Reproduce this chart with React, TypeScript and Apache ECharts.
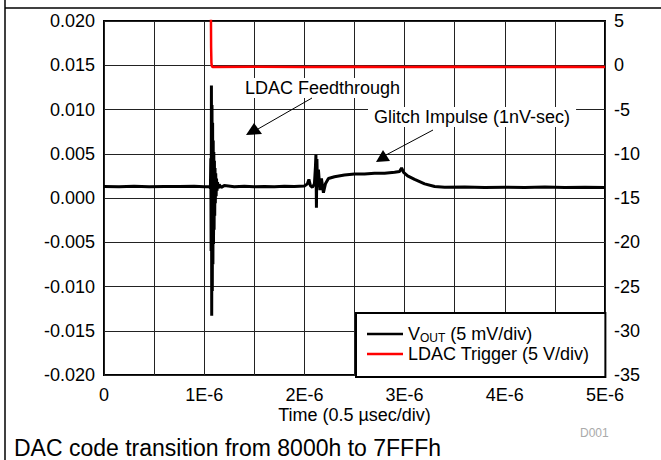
import React, { useEffect, useRef } from "react";
import * as echarts from "echarts";

// Time axis in microseconds (labels shown as 1E-6 etc.)
const xTickLabels = ["0", "1E-6", "2E-6", "3E-6", "4E-6", "5E-6"];

const voutTimeUs = [
  0, 0.15, 0.3, 0.45, 0.6, 0.75, 0.9, 1.0, 1.05, 1.062, 1.066, 1.069, 1.072, 1.075,
  1.078, 1.081, 1.084, 1.087, 1.09, 1.093, 1.096, 1.099, 1.102, 1.105, 1.108, 1.111,
  1.115, 1.119, 1.123, 1.128, 1.133, 1.14, 1.15, 1.17, 1.2, 1.3, 1.4, 1.5, 1.6, 1.7,
  1.8, 1.9, 2.0, 2.03, 2.045, 2.06, 2.08, 2.1, 2.11, 2.115, 2.12, 2.125, 2.13, 2.14,
  2.155, 2.17, 2.19, 2.21, 2.24, 2.3, 2.4, 2.5, 2.6, 2.7, 2.8, 2.9, 2.95, 2.97, 2.99,
  3.03, 3.1, 3.2, 3.3, 3.4, 3.6, 3.8, 4.0, 4.2, 4.4, 4.6, 4.8, 5.0,
];
const voutValues = [
  0.0013, 0.00128, 0.00133, 0.00127, 0.00131, 0.00129, 0.00132, 0.00128, 0.0013, 0.0011,
  0.0045, -0.006, 0.0127, -0.0133, 0.0105, -0.0105, 0.0085, -0.0075, 0.0065, -0.0052,
  0.0052, -0.0036, 0.0042, -0.002, 0.0034, -0.0006, 0.0028, 0.0002, 0.0022, 0.0008,
  0.0018, 0.0011, 0.0015, 0.0012, 0.0014, 0.00128, 0.00133, 0.00127, 0.0013, 0.00128,
  0.00134, 0.0013, 0.00135, 0.0016, 0.0021, 0.0014, 0.0012, 0.0016, 0.0035, 0.0049,
  -0.0011, 0.0044, 0.0015, 0.0032, 0.0009, 0.0022, 0.0006, 0.0016, 0.0022, 0.0024,
  0.0026, 0.0027, 0.0027, 0.0028, 0.0028, 0.0029, 0.003, 0.0034, 0.0029, 0.0025, 0.0021,
  0.0016, 0.0013, 0.00122, 0.00125, 0.0012, 0.00122, 0.0012, 0.00123, 0.0012, 0.00121,
  0.0012,
];

const trigTimeUs = [1.066, 1.069, 1.072, 1.076, 1.085, 1.5, 2.0, 2.5, 3.0, 3.5, 4.0, 4.5, 5.0];
const trigValues = [8, 2, 0.3, -0.1, -0.2, -0.18, -0.2, -0.18, -0.2, -0.18, -0.2, -0.18, -0.2];

const leftMin = -0.02;
const leftMax = 0.02;
const leftStep = 0.005;
const rightMin = -35;
const rightMax = 5;
const rightStep = 5;

const seriesNames = ["VOUT", "LDAC Trigger"];
const legendLabels = ["{n|V}{s|OUT}{n| (5 mV/div)}", "{n|LDAC Trigger (5 V/div)}"];
const annotations = ["LDAC Feedthrough", "Glitch Impulse (1nV-sec)"];
const xAxisTitle = "Time (0.5 \u00b5sec/div)";
const caption = "DAC code transition from 8000h to 7FFFh";
const figureId = "D001";

const FONT = "Liberation Sans, Arial, sans-serif";

export default function App() {
  const ref = useRef<HTMLDivElement>(null);
  useEffect(() => {
    if (!ref.current) return;
    const chart = echarts.init(ref.current, undefined, { renderer: "svg" });
    const gridColor = "#222";
    const option: any = {
      animation: false,
      textStyle: { fontFamily: FONT },
      grid: {
        left: 104,
        right: 56,
        top: 21,
        bottom: 85,
        show: true,
        borderColor: "#000",
        borderWidth: 2,
        backgroundColor: "#fff",
      },
      legend: {
        orient: "vertical",
        left: 356,
        top: 313,
        padding: [12, 16, 14, 11],
        itemGap: 1,
        itemWidth: 36,
        itemHeight: 2.5,
        icon: "rect",
        backgroundColor: "#fff",
        borderColor: "#000",
        borderWidth: 2,
        borderRadius: 0,
        data: seriesNames,
        formatter: (name: string) => legendLabels[seriesNames.indexOf(name)],
        textStyle: {
          fontFamily: FONT,
          color: "#000",
          rich: {
            n: { fontSize: 18, lineHeight: 20, fontFamily: FONT, color: "#000" },
            s: { fontSize: 12, lineHeight: 12, verticalAlign: "bottom", fontFamily: FONT, color: "#000" },
          },
        },
        z: 10,
      },
      xAxis: {
        type: "value",
        min: 0,
        max: 5,
        interval: 0.5,
        name: xAxisTitle,
        nameLocation: "middle",
        nameGap: 31,
        nameMoveOverlap: false,
        nameTextStyle: { fontSize: 18, color: "#000", fontFamily: FONT, verticalAlign: "top" },
        axisLine: { show: false },
        axisTick: { show: false },
        axisLabel: {
          fontSize: 18,
          color: "#000",
          margin: 11,
          fontFamily: FONT,
          formatter: (v: number) => {
            const n = Math.round(v * 2);
            if (n % 2 !== 0) return "";
            return xTickLabels[n / 2] ?? "";
          },
        },
        splitLine: { show: true, lineStyle: { color: gridColor, width: 1 } },
      },
      yAxis: [
        {
          type: "value",
          min: leftMin,
          max: leftMax,
          interval: leftStep,
          axisLine: { show: false },
          axisTick: { show: false },
          axisLabel: {
            fontSize: 18,
            color: "#000",
            margin: 9,
            fontFamily: FONT,
            formatter: (v: number) => v.toFixed(3),
          },
          splitLine: { show: true, lineStyle: { color: gridColor, width: 1 } },
        },
        {
          type: "value",
          position: "right",
          min: rightMin,
          max: rightMax,
          interval: rightStep,
          axisLine: { show: false },
          axisTick: { show: false },
          axisLabel: { fontSize: 18, color: "#000", margin: 9, fontFamily: FONT },
          splitLine: { show: false },
        },
      ],
      series: [
        {
          name: seriesNames[0],
          type: "line",
          yAxisIndex: 0,
          symbol: "none",
          lineStyle: { color: "#000", width: 3 },
          itemStyle: { color: "#000" },
          data: voutTimeUs.map((t, i) => [t, voutValues[i]]),
          z: 3,
        },
        {
          name: seriesNames[1],
          type: "line",
          yAxisIndex: 1,
          symbol: "none",
          clip: true,
          lineStyle: { color: "#ff0000", width: 2.5 },
          itemStyle: { color: "#ff0000" },
          data: trigTimeUs.map((t, i) => [t, trigValues[i]]),
          z: 4,
        },
      ],
      graphic: [
        { type: "line", shape: { x1: 5, y1: 8, x2: 661, y2: 8 }, style: { stroke: "#000", lineWidth: 1.5 }, z: 20 },
        { type: "line", shape: { x1: 5, y1: 0, x2: 5, y2: 460 }, style: { stroke: "#000", lineWidth: 1.5 }, z: 20 },
        {
          type: "text",
          left: 243,
          top: 78,
          z: 20,
          style: {
            text: annotations[0],
            font: `18px ${FONT}`,
            fill: "#000",
            backgroundColor: "#fff",
            padding: [1, 2],
          },
        },
        { type: "line", shape: { x1: 312, y1: 98, x2: 258, y2: 129 }, style: { stroke: "#000", lineWidth: 1 }, z: 20 },
        {
          type: "polygon",
          shape: { points: [[254, 123], [246, 135], [262, 134]] },
          style: { fill: "#000" },
          z: 20,
        },
        {
          type: "text",
          left: 368,
          top: 107,
          z: 20,
          style: {
            text: annotations[1],
            font: `18px ${FONT}`,
            fill: "#000",
            backgroundColor: "#fff",
            padding: [1, 6],
          },
        },
        { type: "line", shape: { x1: 433, y1: 130, x2: 386, y2: 155 }, style: { stroke: "#000", lineWidth: 1 }, z: 20 },
        {
          type: "polygon",
          shape: { points: [[383, 150], [376, 162], [390, 161]] },
          style: { fill: "#000" },
          z: 20,
        },
        {
          type: "text",
          left: 580,
          top: 427,
          z: 20,
          style: { text: figureId, font: `12px ${FONT}`, fill: "#aaa" },
        },
        {
          type: "text",
          left: 14,
          top: 436,
          z: 20,
          style: { text: caption, font: `23px ${FONT}`, fill: "#000" },
        },
      ],
    };
    chart.setOption(option);
    return () => chart.dispose();
  }, []);
  return (
    <div
      ref={ref}
      style={{ position: "fixed", left: 0, top: 0, width: 661, height: 460, background: "#fff" }}
    />
  );
}
